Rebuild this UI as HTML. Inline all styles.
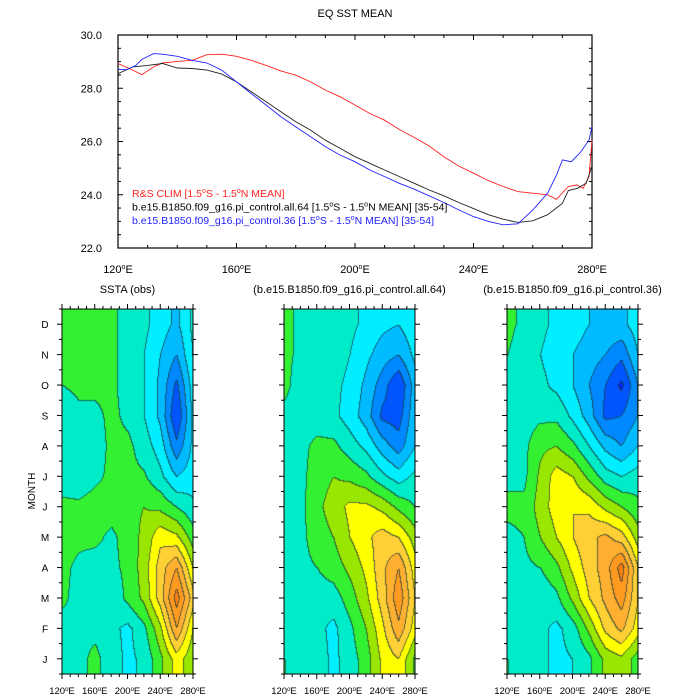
<!DOCTYPE html>
<html><head><meta charset="utf-8">
<style>
body{margin:0;background:#fff;}
#root{position:relative;width:700px;height:700px;overflow:hidden;font-family:"Liberation Sans",sans-serif;}
canvas{position:absolute;}
svg{position:absolute;left:0;top:0;}
</style></head>
<body>
<div id="root">
<canvas id="c0" width="131" height="365" style="left:62px;top:309px"></canvas>
<canvas id="c1" width="131" height="365" style="left:284px;top:309px"></canvas>
<canvas id="c2" width="131" height="365" style="left:507px;top:309px"></canvas>
<svg id="s" width="700" height="700"></svg>
</div>
<script>
// ---- top chart data ----
const redLon=[120,125,128,132,135,140,145,150,155,160,165,170,175,180,185,190,195,200,205,210,215,220,225,230,235,240,245,250,255,260,265,268,272,275,277,279,280];
const redVal=[28.93,28.68,28.51,28.80,28.95,29.01,29.05,29.26,29.28,29.20,29.05,28.86,28.65,28.49,28.24,27.93,27.68,27.37,27.05,26.80,26.45,26.15,25.83,25.43,25.08,24.81,24.53,24.31,24.12,24.06,24.00,23.83,24.31,24.37,24.24,24.68,26.05];
const blackLon=[120,125,130,135,140,145,150,155,160,165,170,175,180,185,190,195,200,205,210,215,220,225,230,235,240,245,250,255,260,265,270,272,275,278,280];
const blackVal=[28.55,28.80,28.86,28.93,28.76,28.74,28.68,28.53,28.24,27.87,27.49,27.12,26.74,26.43,26.05,25.74,25.43,25.18,24.93,24.68,24.43,24.18,23.96,23.71,23.48,23.25,23.08,22.96,23.02,23.25,23.68,24.16,24.24,24.43,25.06];
const blueLon=[120,123,126,128,132,135,140,145,150,155,160,165,170,175,180,185,190,195,200,205,210,215,220,225,230,235,240,245,250,255,260,265,268,270,273,276,279,280];
const blueVal=[28.70,28.70,28.86,29.08,29.30,29.28,29.20,29.05,28.95,28.68,28.24,27.80,27.37,26.93,26.55,26.18,25.81,25.49,25.24,24.93,24.68,24.43,24.21,23.96,23.71,23.43,23.18,23.00,22.87,22.91,23.43,24.06,24.74,25.31,25.24,25.58,26.05,26.58];
const xTicks=[120,160,200,240,280];
const yTicks=[22,24,26,28,30];
// ---- hovmoller data (rows Jan..Dec, cols 120E..280E step 20) ----
const months=["J","F","M","A","M","J","J","A","S","O","N","D"];
const gridLon=[120,140,160,180,200,220,240,260,280];
const obs=[
[-0.2,-0.1,0.1,-0.2,-0.5,-0.3,0.3,1.0,0.5],
[-0.2,-0.1,-0.1,-0.3,-0.5,-0.1,0.7,2.0,0.8],
[0.1,-0.2,-0.2,-0.3,0.1,0.5,1.4,2.6,1.4],
[0.1,-0.1,-0.2,-0.1,0.1,0.6,1.4,2.0,0.8],
[0.2,0.1,0.1,-0.1,0.2,0.5,1.1,0.9,0.2],
[0.1,0.1,0.2,0.2,0.3,0.4,0.3,0.0,-0.3],
[-0.2,-0.3,-0.1,0.1,0.1,0.05,-0.3,-0.8,-0.6],
[-0.3,-0.2,-0.2,0.1,0.1,-0.2,-0.6,-1.5,-0.7],
[-0.3,-0.1,-0.1,0.1,-0.1,-0.4,-0.9,-2.0,-0.7],
[0.0,0.1,0.1,0.1,-0.2,-0.4,-0.9,-1.7,-0.6],
[0.2,0.1,0.1,0.1,-0.2,-0.4,-0.8,-1.2,-0.4],
[0.1,0.1,0.1,0.1,-0.2,-0.3,-0.6,-0.9,-0.3]];
const all64=[
[0.0,-0.2,-0.2,-0.5,-0.2,0.2,0.9,1.2,0.3],
[-0.1,-0.2,-0.3,-0.5,-0.1,0.4,1.1,1.9,1.0],
[-0.1,-0.1,-0.2,-0.2,0.2,0.7,1.4,2.3,1.2],
[0.0,-0.1,0.0,0.2,0.5,0.9,1.5,2.0,1.0],
[-0.1,-0.1,0.2,0.4,0.8,1.1,1.4,1.2,0.6],
[-0.2,-0.1,0.3,0.6,0.9,0.9,0.7,0.3,0.0],
[-0.2,-0.1,0.2,0.4,0.3,0.1,-0.3,-0.6,-0.3],
[-0.2,-0.1,0.1,0.1,-0.2,-0.5,-1.0,-1.4,-0.8],
[-0.1,-0.2,-0.2,-0.3,-0.6,-1.0,-1.7,-1.8,-0.9],
[0.1,-0.2,-0.2,-0.3,-0.5,-0.9,-1.4,-2.0,-1.0],
[0.1,-0.1,-0.1,-0.2,-0.4,-0.7,-1.0,-1.2,-0.7],
[0.1,-0.1,-0.1,-0.2,-0.3,-0.5,-0.7,-0.8,-0.5]];
const ctl36=[
[0.0,-0.2,-0.3,-0.5,-0.4,-0.1,0.5,0.7,0.2],
[-0.1,-0.2,-0.3,-0.5,-0.2,0.5,1.3,1.7,1.0],
[-0.1,-0.2,-0.3,-0.1,0.5,1.2,1.7,2.2,1.2],
[-0.1,-0.1,0.0,0.3,0.9,1.4,1.8,2.6,1.2],
[-0.1,0.0,0.4,0.8,1.2,1.5,1.7,1.4,0.6],
[0.1,0.1,0.6,1.0,1.2,1.1,0.7,0.4,0.1],
[-0.1,-0.1,0.5,1.0,0.8,0.3,-0.2,-0.4,-0.2],
[-0.2,-0.1,0.3,0.4,0.1,-0.4,-0.9,-1.2,-0.8],
[-0.2,-0.2,-0.1,-0.1,-0.5,-1.0,-1.7,-1.6,-1.2],
[-0.1,-0.3,-0.3,-0.5,-0.8,-1.2,-1.6,-2.1,-1.2],
[0.0,-0.2,-0.4,-0.6,-0.8,-1.0,-1.2,-1.5,-0.8],
[0.1,-0.1,-0.3,-0.5,-0.6,-0.8,-0.9,-0.9,-0.6]];
const levelColors=["#0022ff","#0055ff","#0088ff","#00bbff","#00eeff","#00ebc8","#33f033","#99e600","#ffff00","#ffd035","#ffb030","#ff9a20","#ff8010","#ff2020"];

const NS="http://www.w3.org/2000/svg";
const svg=document.getElementById('s');
function el(tag,attrs,txt){const e=document.createElementNS(NS,tag);for(const k in attrs)e.setAttribute(k,attrs[k]);if(txt!==undefined)e.textContent=txt;svg.appendChild(e);return e;}

// ---- top chart ----
const L=118,R=592,T=35,B=248;
const xs=v=>L+(v-120)/160*(R-L);
const ys=v=>B-(v-22)/8*(B-T);
let t=el('text',{x:355,y:17,'text-anchor':'middle','font-size':'11'},'EQ SST MEAN');

let fr=el('rect',{x:L,y:T,width:R-L,height:B-T,fill:'none',stroke:'#000','stroke-width':1.2});

for(let v=120;v<=280;v+=10){const maj=(v%40===0);const len=maj?5:3;
 el('line',{x1:xs(v),x2:xs(v),y1:B,y2:B-len,stroke:'#000'});el('line',{x1:xs(v),x2:xs(v),y1:T,y2:T+len,stroke:'#000'});}
xTicks.forEach(v=>{const e=el('text',{x:xs(v),y:273,'text-anchor':'middle','font-size':'11'});e.innerHTML=v+'<tspan dy="-4" font-size="7">o</tspan><tspan dy="4">E</tspan>';
 });
for(let v=22;v<=30;v+=0.5){const maj=(v%2===0);const len=maj?5:3;
 el('line',{x1:L,x2:L+len,y1:ys(v),y2:ys(v),stroke:'#000'});el('line',{x1:R,x2:R-len,y1:ys(v),y2:ys(v),stroke:'#000'});}
yTicks.forEach(v=>{const e=el('text',{x:102,y:ys(v)+4,'text-anchor':'end','font-size':'11'},v.toFixed(1));
 });
function line(lon,val,col,name){const d=lon.map((l,i)=>(i?'L':'M')+xs(l).toFixed(1)+','+ys(val[i]).toFixed(1)).join('');
 const p=el('path',{d:d,fill:'none',stroke:col,'stroke-width':0.9});}
line(redLon,redVal,'#ff2020','line-rs-clim');
line(blackLon,blackVal,'#222','line-all64');
line(blueLon,blueVal,'#2222ff','line-control36');
const leg=[['R&S CLIM [1.5','S - 1.5','N MEAN]','#ff2020'],['b.e15.B1850.f09_g16.pi_control.all.64 [1.5','S - 1.5','N MEAN] [35-54]','#000'],['b.e15.B1850.f09_g16.pi_control.36 [1.5','S - 1.5','N MEAN] [35-54]','#2222ff']];
leg.forEach((g,i)=>{const e=el('text',{x:132,y:197+i*13.5,'font-size':'10.5',fill:g[3]});
 e.innerHTML=g[0]+'<tspan dy="-4" font-size="7">o</tspan><tspan dy="4">'+g[1]+'</tspan><tspan dy="-4" font-size="7">o</tspan><tspan dy="4">'+g[2]+'</tspan>';
 });

// ---- hovmollers ----
const panels=[{d:obs,x:62,title:'SSTA (obs)'},{d:all64,x:284,title:'(b.e15.B1850.f09_g16.pi_control.all.64)'},{d:ctl36,x:507,title:'(b.e15.B1850.f09_g16.pi_control.36)'}];
const PW=131,PH=365,PT=309;
function val(d,lon,m){
 let fx=(lon-120)/20; fx=Math.max(0,Math.min(8,fx)); let fy=Math.max(0,Math.min(11,m));
 const i=Math.min(7,Math.floor(fx)),j=Math.min(10,Math.floor(fy));const a=fx-i,b=fy-j;
 return (d[j][i]*(1-a)+d[j][i+1]*a)*(1-b)+(d[j+1][i]*(1-a)+d[j+1][i+1]*a)*b;}
function lvl(v){let k=Math.floor(v/0.4)+6;return Math.max(0,Math.min(13,k));}
panels.forEach((p,pi)=>{
 const cv=document.getElementById('c'+pi);const ctx=cv.getContext('2d');
 const img=ctx.createImageData(PW,PH);const L2=[];
 for(let y=0;y<PH;y++){L2.push([]);for(let x=0;x<PW;x++){const lon=120+x/(PW-1)*160;const m=(PH-0.5-y)/PH*12-0.5;
   L2[y].push(lvl(val(p.d,lon,m)));}}
 for(let y=0;y<PH;y++)for(let x=0;x<PW;x++){const k=L2[y][x];let c=levelColors[k];
   let edge=(x>0&&L2[y][x-1]!==k)||(y>0&&L2[y-1][x]!==k);
   const o=(y*PW+x)*4;let r=parseInt(c.substr(1,2),16),g=parseInt(c.substr(3,2),16),b=parseInt(c.substr(5,2),16);
   if(edge){r=r*0.3+20;g=g*0.3+40;b=b*0.3+40;}
   img.data[o]=r;img.data[o+1]=g;img.data[o+2]=b;img.data[o+3]=255;}
 ctx.putImageData(img,0,0);
 const X0=p.x,X1=p.x+PW,Y0=PT,Y1=PT+PH;
 const e=el('rect',{x:X0,y:Y0,width:PW,height:PH,fill:'none',stroke:'#000','stroke-width':1});
 
 const tt=el('text',{x:X0+PW/2,y:293,'text-anchor':'middle','font-size':'11'},p.title);
 
 const px=v=>X0+(v-120)/160*PW;
 for(let v=120;v<=280;v+=10){const len=(v%40===0)?5:3;el('line',{x1:px(v),x2:px(v),y1:Y1,y2:Y1+len,stroke:'#000'});el('line',{x1:px(v),x2:px(v),y1:Y0,y2:Y0-len,stroke:'#000'});}
 xTicks.forEach(v=>{const t2=el('text',{x:px(v),y:694,'text-anchor':'middle','font-size':'9.5'});t2.innerHTML=v+'<tspan dy="-3" font-size="6">o</tspan><tspan dy="3">E</tspan>';
  });
 const my=m=>Y1-(m+0.5)/12*PH;
 for(let h=-0.5;h<=11.5;h+=0.5){const len=(Math.abs(h%1)<0.01)?5:3;el('line',{x1:X0,x2:X0-len,y1:my(h),y2:my(h),stroke:'#000'});el('line',{x1:X1,x2:X1+len,y1:my(h),y2:my(h),stroke:'#000'});}
 if(pi===0){months.forEach((m,i)=>{const t3=el('text',{x:45,y:my(i)+4,'text-anchor':'middle','font-size':'10'},m);
  });}
});
const yl=el('text',{x:0,y:0,'text-anchor':'middle','font-size':'10',transform:'translate(35,491) rotate(-90)'},'MONTH');

</script>
</body></html>
